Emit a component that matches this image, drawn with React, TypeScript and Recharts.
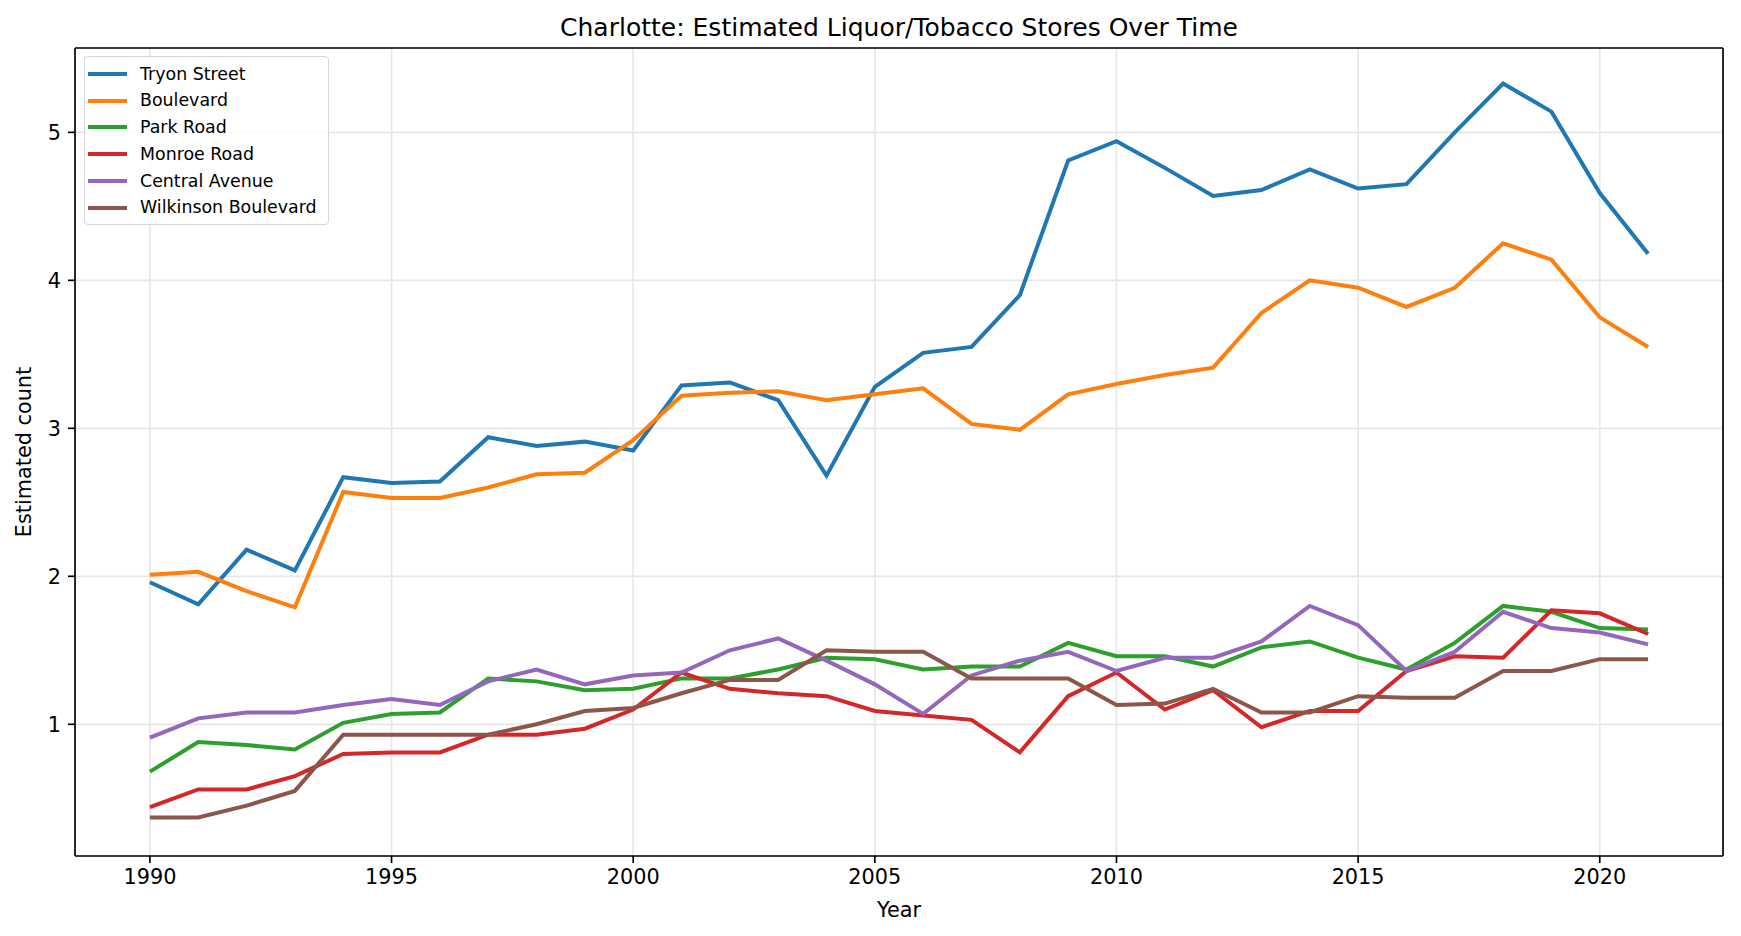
import React from 'react';
import {
  LineChart,
  Line,
  XAxis,
  YAxis,
  CartesianGrid,
  Legend,
  ReferenceLine,
} from 'recharts';

// drop the default 8px body margin so the chart sits at 0,0
document.body.style.margin = '0';

const FONT = '"DejaVu Sans", Verdana, sans-serif';

const YEARS = [
  1990, 1991, 1992, 1993, 1994, 1995, 1996, 1997, 1998, 1999, 2000, 2001, 2002, 2003, 2004, 2005,
  2006, 2007, 2008, 2009, 2010, 2011, 2012, 2013, 2014, 2015, 2016, 2017, 2018, 2019, 2020, 2021,
];

const TRYON_STREET = [
  1.96, 1.81, 2.18, 2.04, 2.67, 2.63, 2.64, 2.94, 2.88, 2.91, 2.85, 3.29, 3.31, 3.19, 2.68, 3.28,
  3.51, 3.55, 3.9, 4.81, 4.94, 4.76, 4.57, 4.61, 4.75, 4.62, 4.65, 5.0, 5.33, 5.14, 4.59, 4.18,
];
const BOULEVARD = [
  2.01, 2.03, 1.9, 1.79, 2.57, 2.53, 2.53, 2.6, 2.69, 2.7, 2.92, 3.22, 3.24, 3.25, 3.19, 3.23,
  3.27, 3.03, 2.99, 3.23, 3.3, 3.36, 3.41, 3.78, 4.0, 3.95, 3.82, 3.95, 4.25, 4.14, 3.75, 3.55,
];
const PARK_ROAD = [
  0.68, 0.88, 0.86, 0.83, 1.01, 1.07, 1.08, 1.31, 1.29, 1.23, 1.24, 1.31, 1.31, 1.37, 1.45, 1.44,
  1.37, 1.39, 1.39, 1.55, 1.46, 1.46, 1.39, 1.52, 1.56, 1.45, 1.37, 1.55, 1.8, 1.76, 1.65, 1.64,
];
const MONROE_ROAD = [
  0.44, 0.56, 0.56, 0.65, 0.8, 0.81, 0.81, 0.93, 0.93, 0.97, 1.1, 1.35, 1.24, 1.21, 1.19, 1.09,
  1.06, 1.03, 0.81, 1.19, 1.35, 1.1, 1.23, 0.98, 1.09, 1.09, 1.36, 1.46, 1.45, 1.77, 1.75, 1.61,
];
const CENTRAL_AVENUE = [
  0.91, 1.04, 1.08, 1.08, 1.13, 1.17, 1.13, 1.29, 1.37, 1.27, 1.33, 1.35, 1.5, 1.58, 1.43, 1.27,
  1.07, 1.33, 1.43, 1.49, 1.36, 1.45, 1.45, 1.56, 1.8, 1.67, 1.36, 1.49, 1.76, 1.65, 1.62, 1.54,
];
const WILKINSON_BOULEVARD = [
  0.37, 0.37, 0.45, 0.55, 0.93, 0.93, 0.93, 0.93, 1.0, 1.09, 1.11, 1.21, 1.3, 1.3, 1.5, 1.49,
  1.49, 1.31, 1.31, 1.31, 1.13, 1.14, 1.24, 1.08, 1.08, 1.19, 1.18, 1.18, 1.36, 1.36, 1.44, 1.44,
];

const X_TICKS = [1990, 1995, 2000, 2005, 2010, 2015, 2020];
const Y_TICKS = [1, 2, 3, 4, 5];
const X_DOMAIN: [number, number] = [1988.45, 2022.55];
const Y_DOMAIN: [number, number] = [0.11, 5.57];

const SERIES = [
  { key: 'tryon', name: 'Tryon Street', color: '#1f77b4', values: TRYON_STREET },
  { key: 'boulevard', name: 'Boulevard', color: '#ff7f0e', values: BOULEVARD },
  { key: 'park', name: 'Park Road', color: '#2ca02c', values: PARK_ROAD },
  { key: 'monroe', name: 'Monroe Road', color: '#d62728', values: MONROE_ROAD },
  { key: 'central', name: 'Central Avenue', color: '#9467bd', values: CENTRAL_AVENUE },
  { key: 'wilkinson', name: 'Wilkinson Boulevard', color: '#8c564b', values: WILKINSON_BOULEVARD },
];

const chartData = YEARS.map((year, i) => {
  const row: Record<string, number> = { year };
  SERIES.forEach((s) => {
    row[s.key] = s.values[i];
  });
  return row;
});

const SPINE = 1.67;

function LegendBox() {
  return (
    <div
      style={{
        border: '1.67px solid #d6d6d6',
        borderRadius: 4,
        background: 'rgba(255,255,255,0.8)',
        padding: '3.5px 11px 3px 3px',
        fontFamily: FONT,
        fontSize: 17.4,
        color: '#000',
      }}
    >
      {SERIES.map((s) => (
        <div key={s.key} style={{ display: 'flex', alignItems: 'center', height: 26.8 }}>
          <span
            style={{ display: 'inline-block', width: 39, height: 4, background: s.color, marginRight: 13 }}
          />
          <span style={{ lineHeight: '26.8px', whiteSpace: 'nowrap' }}>{s.name}</span>
        </div>
      ))}
    </div>
  );
}

export default function App() {
  const tickStyle = { fill: '#000', fontSize: 20.8, fontFamily: FONT };

  return (
    <div style={{ position: 'relative', width: 1741, height: 936, background: '#fff', fontFamily: FONT }}>
      {/* Title */}
      <div
        style={{
          position: 'absolute',
          left: 75,
          width: 1648,
          top: 13,
          textAlign: 'center',
          fontSize: 25,
          lineHeight: '30px',
          color: '#000',
        }}
      >
        Charlotte: Estimated Liquor/Tobacco Stores Over Time
      </div>

      {/* Axis labels */}
      <div
        style={{
          position: 'absolute',
          left: 75,
          width: 1648,
          top: 897,
          textAlign: 'center',
          fontSize: 20.8,
          lineHeight: '26px',
          color: '#000',
        }}
      >
        Year
      </div>
      <div
        style={{
          position: 'absolute',
          left: 24 - 200,
          top: 452 - 13,
          width: 400,
          textAlign: 'center',
          fontSize: 20.8,
          lineHeight: '26px',
          color: '#000',
          transform: 'rotate(-90deg)',
        }}
      >
        Estimated count
      </div>

      <LineChart
        width={1741}
        height={936}
        data={chartData}
        margin={{ top: 48, right: 18, bottom: 0, left: 0 }}
        style={{ position: 'absolute', left: 0, top: 0 }}
      >
        <CartesianGrid stroke="#e7e7e7" strokeWidth={SPINE} />
        <XAxis
          dataKey="year"
          type="number"
          domain={X_DOMAIN}
          ticks={X_TICKS}
          height={80}
          tickSize={7}
          tickMargin={6}
          tick={tickStyle}
          axisLine={{ stroke: '#000', strokeWidth: SPINE }}
          tickLine={{ stroke: '#000', strokeWidth: SPINE }}
          allowDataOverflow
        />
        <YAxis
          type="number"
          domain={Y_DOMAIN}
          ticks={Y_TICKS}
          width={75}
          tickSize={7}
          tickMargin={7}
          tick={tickStyle}
          axisLine={{ stroke: '#000', strokeWidth: SPINE }}
          tickLine={{ stroke: '#000', strokeWidth: SPINE }}
          allowDataOverflow
        />
        <ReferenceLine y={Y_DOMAIN[1]} stroke="#000" strokeWidth={SPINE} ifOverflow="visible" />
        <ReferenceLine x={X_DOMAIN[1]} stroke="#000" strokeWidth={SPINE} ifOverflow="visible" />
        {SERIES.map((s) => (
          <Line
            key={s.key}
            type="linear"
            dataKey={s.key}
            name={s.name}
            stroke={s.color}
            strokeWidth={4}
            dot={false}
            activeDot={false}
            isAnimationActive={false}
          />
        ))}
        <Legend
          layout="vertical"
          align="center"
          verticalAlign="middle"
          content={() => <LegendBox />}
          wrapperStyle={{ left: 84, top: 56, width: 'auto' }}
        />
      </LineChart>
    </div>
  );
}
